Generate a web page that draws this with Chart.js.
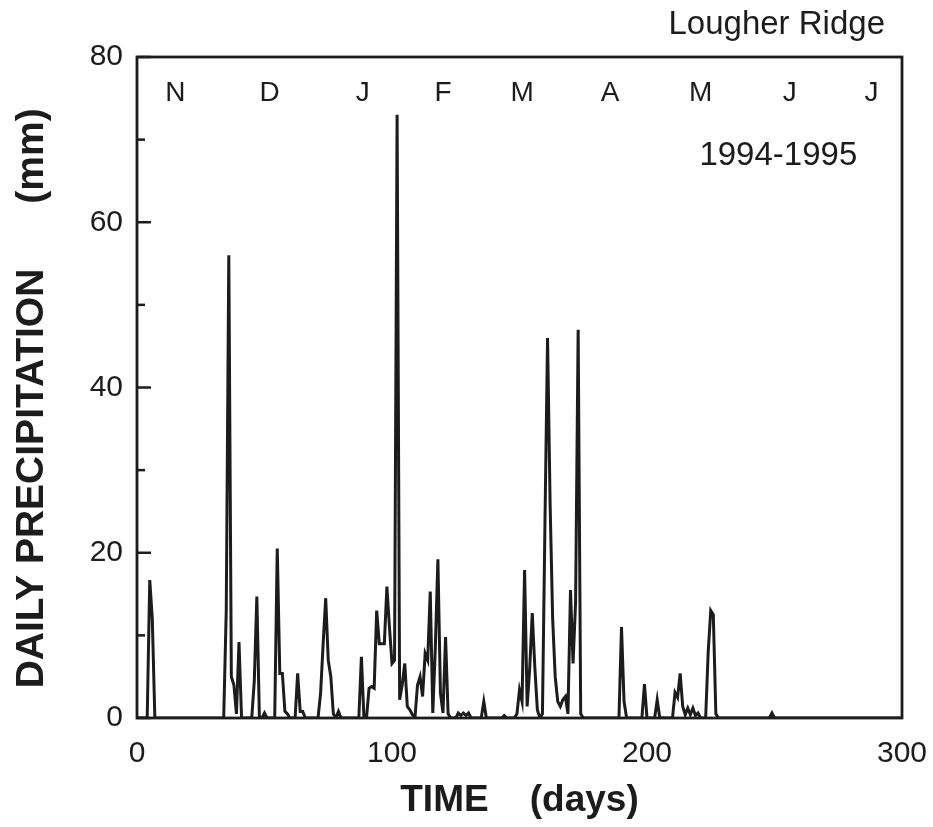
<!DOCTYPE html>
<html>
<head>
<meta charset="utf-8">
<script src="https://cdn.jsdelivr.net/npm/chart.js@4.4.1/dist/chart.umd.min.js"></script>
<style>
    body { margin: 0; background: #fff; }
    #wrap { width: 933px; height: 827px; }
</style>
</head>
<body>
<div id="wrap"><canvas id="myChart" width="933" height="827"></canvas></div>
<script>
// Daily precipitation (mm), one value per day from day 0 to day 300.
const rain = [
    0, 0, 0, 0, 0, 16.7, 12, 0, 0, 0,
    0, 0, 0, 0, 0, 0, 0, 0, 0, 0,
    0, 0, 0, 0, 0, 0, 0, 0, 0, 0,
    0, 0, 0, 0, 0, 13, 56, 5, 4, 0.5,
    9.2, 0, 0, 0, 0, 0, 4.5, 14.7, 0, 0,
    0.6, 0, 0, 0, 0, 20.5, 5.4, 5.4, 0.8, 0.5,
    0, 0, 0, 5.4, 0.8, 0.8, 0, 0, 0, 0,
    0, 0, 3, 9, 14.5, 7, 5, 0.5, 0, 0.8,
    0, 0, 0, 0, 0, 0, 0, 0, 7.4, 0,
    0, 3.6, 3.8, 3.6, 13, 9, 9, 9, 15.9, 11,
    6.6, 7, 73, 2.2, 4, 6.6, 1.4, 1, 0.4, 0,
    4, 5, 2.6, 7.8, 7, 15.3, 0.6, 8.6, 19.2, 3,
    0.6, 9.8, 0.5, 0, 0, 0, 0.6, 0.3, 0.6, 0.3,
    0.6, 0, 0, 0, 0, 0, 2, 0, 0, 0,
    0, 0, 0, 0, 0.3, 0, 0, 0, 0, 0.5,
    3.4, 2, 17.9, 1.4, 6, 12.7, 6.2, 1, 0, 0.5,
    24, 46, 26, 12, 5, 2, 1.4, 2.2, 2.6, 0.5,
    15.5, 6.6, 14, 47, 0.5, 0, 0, 0, 0, 0,
    0, 0, 0, 0, 0, 0, 0, 0, 0, 0,
    11, 2, 0, 0, 0, 0, 0, 0, 0, 4.1,
    0, 0, 0, 0, 2.2, 0, 0, 0, 0, 0,
    0, 3.1, 2.5, 5.4, 1.4, 0.4, 1.2, 0.4, 1.2, 0.3,
    0.6, 0, 0, 0, 8, 13, 12.5, 0.5, 0, 0,
    0, 0, 0, 0, 0, 0, 0, 0, 0, 0,
    0, 0, 0, 0, 0, 0, 0, 0, 0, 0.6,
    0, 0, 0, 0, 0, 0, 0, 0, 0, 0,
    0, 0, 0, 0, 0, 0, 0, 0, 0, 0,
    0, 0, 0, 0, 0, 0, 0, 0, 0, 0,
    0, 0, 0, 0, 0, 0, 0, 0, 0, 0,
    0, 0, 0, 0, 0, 0, 0, 0, 0, 0,
    0
];
const days = rain.map((v, i) => i);

// Month initials along the top, placed at these days.
const monthLabels = ["N", "D", "J", "F", "M", "A", "M", "J", "J"];
const monthDays = [15, 52, 88.5, 120, 151, 185.5, 221, 256, 288];

const xTicks = [0, 100, 200, 300];
const yTicks = [0, 20, 40, 60, 80];

const siteName = "Lougher Ridge";
const period = "1994-1995";

const FONT = "'Liberation Sans', Arial, Helvetica, sans-serif";
const INK = "#1c1c1c";

// frame, inward y ticks and the text labels inside the plot
const extras = {
    id: "extras",
    afterDatasetsDraw(chart) {
        const ctx = chart.ctx;
        const area = chart.chartArea;
        const x = chart.scales.x;
        const y = chart.scales.y;
        ctx.save();

        // inward ticks on the left axis
        ctx.strokeStyle = INK;
        ctx.lineWidth = 2.5;
        y.ticks.forEach((t) => {
            const py = y.getPixelForValue(t.value);
            const len = yTicks.includes(t.value) ? 14 : 8;
            ctx.beginPath();
            ctx.moveTo(area.left, py);
            ctx.lineTo(area.left + len, py);
            ctx.stroke();
        });

        // box around the plot
        ctx.lineWidth = 2.8;
        ctx.strokeRect(area.left, area.top, area.right - area.left, area.bottom - area.top);

        ctx.fillStyle = INK;
        ctx.textBaseline = "middle";

        // months
        ctx.font = "28px " + FONT;
        ctx.textAlign = "center";
        monthLabels.forEach((m, i) => {
            ctx.fillText(m, x.getPixelForValue(monthDays[i]), area.top + 36);
        });

        // period
        ctx.font = "33px " + FONT;
        ctx.fillText(period, x.getPixelForValue(251.5), area.top + 99);

        // site name above the box
        ctx.font = "33px " + FONT;
        ctx.textAlign = "right";
        ctx.fillText(siteName, area.right - 17, area.top - 32);

        ctx.restore();
    }
};

new Chart("myChart", {
    type: "line",
    data: {
        datasets: [{
            data: days.map((d, i) => ({x: d, y: rain[i]})),
            borderColor: INK,
            borderWidth: 3,
            pointRadius: 0,
            tension: 0,
            fill: false
        }]
    },
    options: {
        responsive: false,
        animation: false,
        layout: {
            padding: {top: 57, right: 31, bottom: 0, left: 0}
        },
        plugins: {
            legend: {display: false},
            tooltip: {enabled: false}
        },
        scales: {
            x: {
                type: "linear",
                min: 0,
                max: 300,
                afterFit: (scale) => {
                    scale.height = 109;
                    scale.paddingLeft = 0;
                    scale.paddingRight = 0;
                },
                afterBuildTicks: (scale) => {
                    scale.ticks = xTicks.map((v) => ({value: v}));
                },
                grid: {display: false, drawTicks: false},
                border: {display: false},
                ticks: {
                    padding: 18,
                    color: INK,
                    font: {family: FONT, size: 30},
                    maxRotation: 0
                },
                title: {
                    display: true,
                    text: "TIME    (days)",
                    color: INK,
                    font: {family: FONT, size: 37, weight: "bold"},
                    padding: {top: 0, bottom: 4}
                }
            },
            y: {
                min: 0,
                max: 80,
                afterFit: (scale) => { scale.width = 137; },
                ticks: {
                    stepSize: 10,
                    padding: 14,
                    color: INK,
                    font: {family: FONT, size: 30},
                    callback: (v) => (yTicks.includes(v) ? v : "")
                },
                grid: {display: false, drawTicks: false},
                border: {display: false},
                title: {
                    display: true,
                    text: "DAILY PRECIPITATION      (mm)\u00a0\u00a0",
                    color: INK,
                    font: {family: FONT, size: 39, weight: "bold"},
                    padding: {top: 9, bottom: 0}
                }
            }
        }
    },
    plugins: [extras]
});
</script>
</body>
</html>
